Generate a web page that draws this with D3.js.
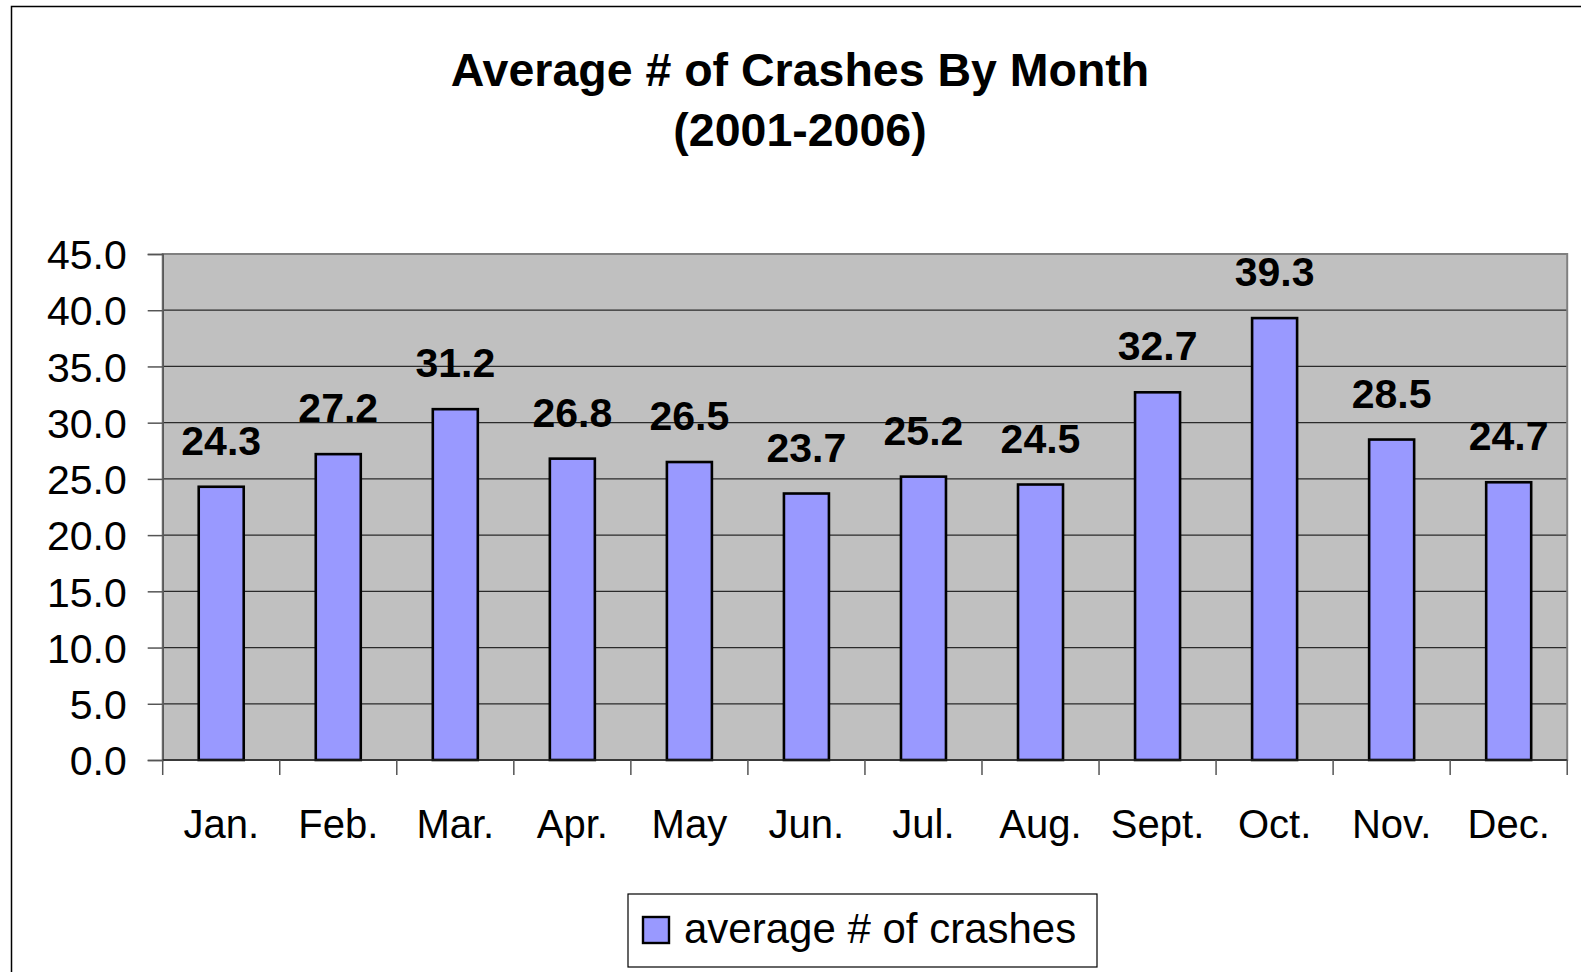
<!DOCTYPE html>
<html>
<head>
<meta charset="utf-8">
<script src="https://cdn.jsdelivr.net/npm/d3@7"></script>
<style>
  html, body { margin: 0; padding: 0; background: #fff; }
  svg { display: block; }
  text { font-family: "Liberation Sans", Arial, sans-serif; fill: #000; }
</style>
</head>
<body>
<svg id="chart" width="1581" height="972"></svg>
<script>
const months = ["Jan.", "Feb.", "Mar.", "Apr.", "May", "Jun.", "Jul.", "Aug.", "Sept.", "Oct.", "Nov.", "Dec."];
const crashes = [24.3, 27.2, 31.2, 26.8, 26.5, 23.7, 25.2, 24.5, 32.7, 39.3, 28.5, 24.7];
const yTicks = [0, 5, 10, 15, 20, 25, 30, 35, 40, 45];
const titleLines = ["Average # of Crashes By Month", "(2001-2006)"];
const seriesName = "average # of crashes";

const svg = d3.select("#chart");
const W = 1581, H = 972;
const plot = { left: 162.7, right: 1567.2, top: 254, bottom: 760 };

// outer chart border (extends past right and bottom edges)
svg.append("rect")
  .attr("x", 11.5).attr("y", 6.5)
  .attr("width", W + 20).attr("height", H + 20)
  .attr("fill", "#fff").attr("stroke", "#000").attr("stroke-width", 1.5);

// title
svg.append("g").selectAll("text").data(titleLines).join("text")
  .attr("x", 800).attr("y", (d, i) => 86 + i * 60)
  .attr("text-anchor", "middle")
  .attr("font-weight", "bold")
  .attr("font-size", 46.5)
  .text(d => d);

const x = d3.scaleBand().domain(months).range([plot.left, plot.right]).padding(0);
const y = d3.scaleLinear().domain([0, 45]).range([plot.bottom, plot.top]);

// plot area background
svg.append("rect")
  .attr("x", plot.left).attr("y", plot.top)
  .attr("width", plot.right - plot.left).attr("height", plot.bottom - plot.top)
  .attr("fill", "#c0c0c0");

// gridlines
svg.append("g").selectAll("line").data(yTicks.filter(t => t > 0 && t < 45)).join("line")
  .attr("x1", plot.left).attr("x2", plot.right)
  .attr("y1", d => y(d)).attr("y2", d => y(d))
  .attr("stroke", "#2a2a2a").attr("stroke-width", 1.3);

// plot border (gray)
svg.append("rect")
  .attr("x", plot.left).attr("y", plot.top)
  .attr("width", plot.right - plot.left).attr("height", plot.bottom - plot.top)
  .attr("fill", "none").attr("stroke", "#808080").attr("stroke-width", 2);

// y axis
const yAxis = d3.axisLeft(y).tickValues(yTicks).tickSize(15).tickPadding(21)
  .tickFormat(d3.format(".1f"));
const gy = svg.append("g").attr("transform", `translate(${plot.left},0)`).call(yAxis);
gy.select(".domain").attr("stroke", "#555").attr("stroke-width", 1.5);
gy.selectAll(".tick line").attr("stroke", "#555").attr("stroke-width", 1.5);
gy.selectAll(".tick text")
  .attr("font-family", "'Liberation Sans', Arial, sans-serif")
  .attr("font-size", 41).attr("fill", "#000").attr("dy", "0.36em");

// bars
const barW = 45;
svg.append("g").selectAll("rect").data(crashes).join("rect")
  .attr("x", (d, i) => x(months[i]) + x.bandwidth() / 2 - barW / 2)
  .attr("y", d => y(d))
  .attr("width", barW)
  .attr("height", d => y(0) - y(d))
  .attr("fill", "#9999ff")
  .attr("stroke", "#000").attr("stroke-width", 2.6);

// x axis line + ticks at category boundaries
svg.append("line")
  .attr("x1", plot.left).attr("x2", plot.right)
  .attr("y1", plot.bottom).attr("y2", plot.bottom)
  .attr("stroke", "#222").attr("stroke-width", 1.5);
const boundaries = months.map(m => x(m)).concat([plot.right]);
svg.append("g").selectAll("line").data(boundaries).join("line")
  .attr("x1", d => d).attr("x2", d => d)
  .attr("y1", plot.bottom).attr("y2", plot.bottom + 15)
  .attr("stroke", "#555").attr("stroke-width", 1.5);

// month labels
svg.append("g").selectAll("text").data(months).join("text")
  .attr("x", d => x(d) + x.bandwidth() / 2)
  .attr("y", 838)
  .attr("text-anchor", "middle")
  .attr("font-size", 40)
  .text(d => d);

// data labels
svg.append("g").selectAll("text").data(crashes).join("text")
  .attr("x", (d, i) => x(months[i]) + x.bandwidth() / 2)
  .attr("y", d => y(d) - 32)
  .attr("text-anchor", "middle")
  .attr("font-weight", "bold")
  .attr("font-size", 41)
  .text(d => d.toFixed(1));

// legend
const lg = svg.append("g");
lg.append("rect")
  .attr("x", 628).attr("y", 894).attr("width", 469).attr("height", 73)
  .attr("fill", "#fff").attr("stroke", "#000").attr("stroke-width", 1.2);
lg.append("rect")
  .attr("x", 643).attr("y", 917).attr("width", 26).attr("height", 26)
  .attr("fill", "#9999ff").attr("stroke", "#000").attr("stroke-width", 2.4);
lg.append("text")
  .attr("x", 684).attr("y", 943)
  .attr("font-size", 42)
  .text(seriesName);
</script>
</body>
</html>
